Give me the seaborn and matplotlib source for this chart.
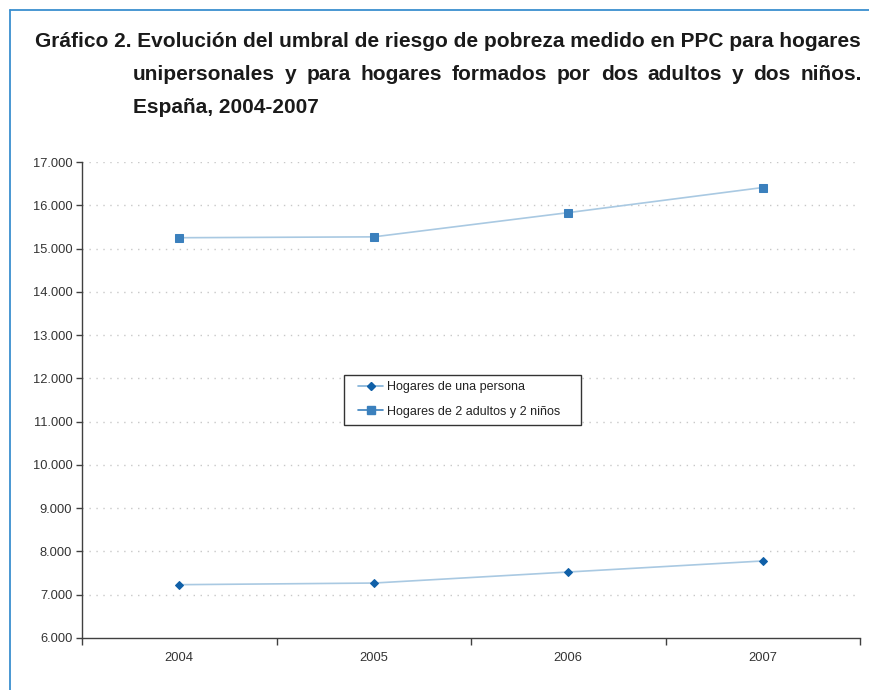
import matplotlib
matplotlib.use("Agg")
import matplotlib.pyplot as plt
from matplotlib.lines import Line2D
from matplotlib.patches import Rectangle
import seaborn as sns
import pandas as pd

years = ["2004", "2005", "2006", "2007"]
una_persona = [7232, 7270, 7525, 7780]
dos_adultos_dos_ninos = [15250, 15270, 15830, 16410]
series_names = ["Hogares de una persona", "Hogares de 2 adultos y 2 niños"]
yticks = list(range(6000, 17001, 1000))

sns.set_theme(style="white")
plt.rcParams['font.family'] = ['Liberation Sans', 'DejaVu Sans']

df = pd.DataFrame({
    "pos": list(range(len(years))) * 2,
    "valor": una_persona + dos_adultos_dos_ninos,
    "serie": [series_names[0]] * 4 + [series_names[1]] * 4,
})

W, H = 869, 690
fig = plt.figure(figsize=(W / 100, H / 100), dpi=100)
ax = fig.add_axes([82 / W, 1 - 638 / H, (860 - 82) / W, (638 - 162) / H])

line_col = "#a9c9e2"
styles = {
    series_names[0]: dict(marker="D", ms=4.5, mfc="#1060a8", mec="#1060a8"),
    series_names[1]: dict(marker="s", ms=6, mfc="#3b80bd", mec="#3b80bd"),
}
for name in series_names:
    sub = df[df.serie == name]
    st = styles[name]
    sns.lineplot(data=sub, x="pos", y="valor", ax=ax, color=line_col, lw=1.2,
                 marker=st["marker"], markersize=st["ms"],
                 markerfacecolor=st["mfc"], markeredgecolor=st["mec"],
                 label=name, legend=False)

ax.set_xlim(-0.5, len(years) - 0.5)
ax.set_ylim(6000, 17000)
ax.set_yticks(yticks)
ax.set_yticklabels([f"{v:,}".replace(",", ".") for v in yticks])
ax.set_xticks(range(len(years)))
ax.set_xticklabels(years)
ax.set_xlabel("")
ax.set_ylabel("")

# grid lines
for v in yticks[1:]:
    ax.axhline(v, color="#c8c8c8", lw=1.0, ls=(0, (1, 4)), zorder=0)

for s in ["top", "right"]:
    ax.spines[s].set_visible(False)
for s in ["left", "bottom"]:
    ax.spines[s].set_color("#404040")
    ax.spines[s].set_linewidth(1.0)

ax.tick_params(axis="y", which="major", direction="out", length=4, width=1,
               color="#404040", labelsize=9.3, labelcolor="#333333", pad=3, left=True)
ax.tick_params(axis="x", which="major", length=0, labelsize=9.3, labelcolor="#333333", pad=10)
# category boundary ticks on x
ax.set_xticks([i - 0.5 for i in range(len(years) + 1)], minor=True)
ax.tick_params(axis="x", which="minor", direction="out", length=5, width=1, color="#404040", bottom=True)

handles = [
    Line2D([], [], color="#7fb0d8", lw=1.2, marker="D", ms=4.5, mfc="#1060a8", mec="#1060a8"),
    Line2D([], [], color="#3b80bd", lw=1.2, marker="s", ms=6, mfc="#3b80bd", mec="#3b80bd"),
]
leg = fig.legend(handles, series_names, loc="upper left",
                 bbox_to_anchor=(358 / W, 1 - 381 / H),
                 frameon=False, fontsize=9, handlelength=2.0, handletextpad=0.3,
                 borderpad=0, labelspacing=1.0, borderaxespad=0)
for t in leg.get_texts():
    t.set_color("#222222")
fig.add_artist(Rectangle((344 / W, 1 - 425 / H), (581 - 344) / W, (425 - 375) / H,
                         transform=fig.transFigure, fill=True, facecolor="white",
                         edgecolor="#333333", lw=1.0, zorder=2))
leg.set_zorder(3)

# title
tkw = dict(fontsize=15.0, fontweight="bold", color="#1a1a1a", va="baseline", ha="left")
fig.text(35 / W, 1 - 47 / H,
         "Gráfico 2. Evolución del umbral de riesgo de pobreza medido en PPC para hogares", **tkw)
fig.text(133 / W, 1 - 113 / H, "España, 2004-2007", **tkw)

# justified second line
words = "unipersonales y para hogares formados por dos adultos y dos niños.".split()
fig.canvas.draw()
r = fig.canvas.get_renderer()
objs = [fig.text(0, 1 - 80 / H, w, **tkw) for w in words]
widths = [o.get_window_extent(r).width for o in objs]
x0, x1 = 133, 862
gap = (x1 - x0 - sum(widths)) / (len(words) - 1)
x = x0
for o, w in zip(objs, widths):
    o.set_x(x / W)
    x += w + gap

# blue frame
bc = "#3a8fcf"
fig.add_artist(Line2D([10 / W, 10 / W], [0, 1 - 10 / H], color=bc, lw=1.3, transform=fig.transFigure))
fig.add_artist(Line2D([10 / W, 1], [1 - 10 / H, 1 - 10 / H], color=bc, lw=1.3, transform=fig.transFigure))

fig.savefig("out.png", dpi=100)
